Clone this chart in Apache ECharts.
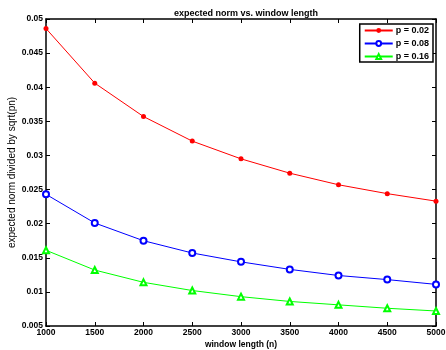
<!DOCTYPE html>
<html>
<head>
<meta charset="utf-8">
<script src="https://cdn.jsdelivr.net/npm/echarts@6/dist/echarts.min.js"></script>
<style>
  html, body { margin: 0; padding: 0; background: #fff; }
  #main { width: 446px; height: 350px; }
</style>
</head>
<body>
<div id="main"></div>
<script>
// window lengths and expected norms
var windowLength = [1000, 1500, 2000, 2500, 3000, 3500, 4000, 4500, 5000];
var p002 = [0.0486, 0.0406, 0.0357, 0.0321, 0.0295, 0.0274, 0.0257, 0.0244, 0.0233];
var p008 = [0.0243, 0.0201, 0.0175, 0.0157, 0.0144, 0.0133, 0.0124, 0.0118, 0.0111];
var p016 = [0.0161, 0.0132, 0.0114, 0.0102, 0.0093, 0.0086, 0.0081, 0.0076, 0.0072];

function pairs(ys) {
  return windowLength.map(function (x, i) { return [x, ys[i]]; });
}

var font = 'Liberation Sans, Arial, sans-serif';
var myChart = echarts.init(document.getElementById('main'));

var axisLine = { show: true, lineStyle: { color: '#000', width: 1.5 } };
var axisTick = { show: true, inside: true, length: 4, lineStyle: { color: '#000', width: 1 } };

option = {
  animation: false,
  backgroundColor: '#fff',
  title: {
    text: 'expected norm vs. window length',
    left: 241, top: 4, textAlign: 'center',
    textStyle: { fontFamily: font, fontWeight: 'bold', fontSize: 9, color: '#000' }
  },
  grid: { left: 46, right: 10, top: 19, bottom: 24, outerBoundsMode: 'none', containLabel: false },
  legend: {
    orient: 'vertical',
    right: 13, top: 24,
    backgroundColor: '#fff',
    borderColor: '#000', borderWidth: 1.5, borderRadius: 0,
    padding: [2, 4, 1, 4],
    itemWidth: 28, itemHeight: 6, itemGap: 4,
    textStyle: { fontFamily: font, fontWeight: 'bold', fontSize: 9, color: '#000', padding: [0, 0, 0, -2] },
    data: ['p = 0.02', 'p = 0.08', 'p = 0.16']
  },
  xAxis: [
    {
      type: 'value', min: 1000, max: 5000, interval: 500,
      name: 'window length (n)', nameLocation: 'middle', nameGap: 14, nameMoveOverlap: false,
      nameTextStyle: { fontFamily: font, fontWeight: 'bold', fontSize: 8.5, color: '#000' },
      axisLine: axisLine, axisTick: axisTick,
      axisLabel: {
        color: '#000', fontFamily: font, fontWeight: 'bold', fontSize: 8.5, margin: 2,
        formatter: function (v) { return String(v); }
      },
      splitLine: { show: false }
    },
    {
      type: 'value', position: 'top', min: 1000, max: 5000, interval: 500,
      axisLine: axisLine, axisTick: axisTick, axisLabel: { show: false }, splitLine: { show: false }
    }
  ],
  yAxis: [
    {
      type: 'value', min: 0.005, max: 0.05, interval: 0.005,
      name: 'expected norm divided by sqrt(pn)', nameLocation: 'middle', nameGap: 29, nameMoveOverlap: false,
      nameTextStyle: { fontFamily: font, fontWeight: 'normal', fontSize: 10, color: '#000' },
      axisLine: axisLine, axisTick: axisTick,
      axisLabel: {
        color: '#000', fontFamily: font, fontWeight: 'bold', fontSize: 8.5, margin: 3,
        formatter: function (v) { return String(+v.toFixed(3)); }
      },
      splitLine: { show: false }
    },
    {
      type: 'value', position: 'right', min: 0.005, max: 0.05, interval: 0.005,
      axisLine: axisLine, axisTick: axisTick, axisLabel: { show: false }, splitLine: { show: false }
    }
  ],
  series: [
    {
      name: 'p = 0.02', type: 'line', data: pairs(p002),
      symbol: 'circle', symbolSize: 5,
      lineStyle: { color: '#ff0000', width: 1 },
      itemStyle: { color: '#ff0000' }
    },
    {
      name: 'p = 0.08', type: 'line', data: pairs(p008),
      symbol: 'emptyCircle', symbolSize: 6,
      lineStyle: { color: '#0000ff', width: 1 },
      itemStyle: { color: '#0000ff', borderWidth: 1 }
    },
    {
      name: 'p = 0.16', type: 'line', data: pairs(p016),
      symbol: 'emptyTriangle', symbolSize: 6,
      lineStyle: { color: '#00ff00', width: 1 },
      itemStyle: { color: '#00ff00', borderWidth: 1 }
    }
  ]
};

myChart.setOption(option);
</script>
</body>
</html>
